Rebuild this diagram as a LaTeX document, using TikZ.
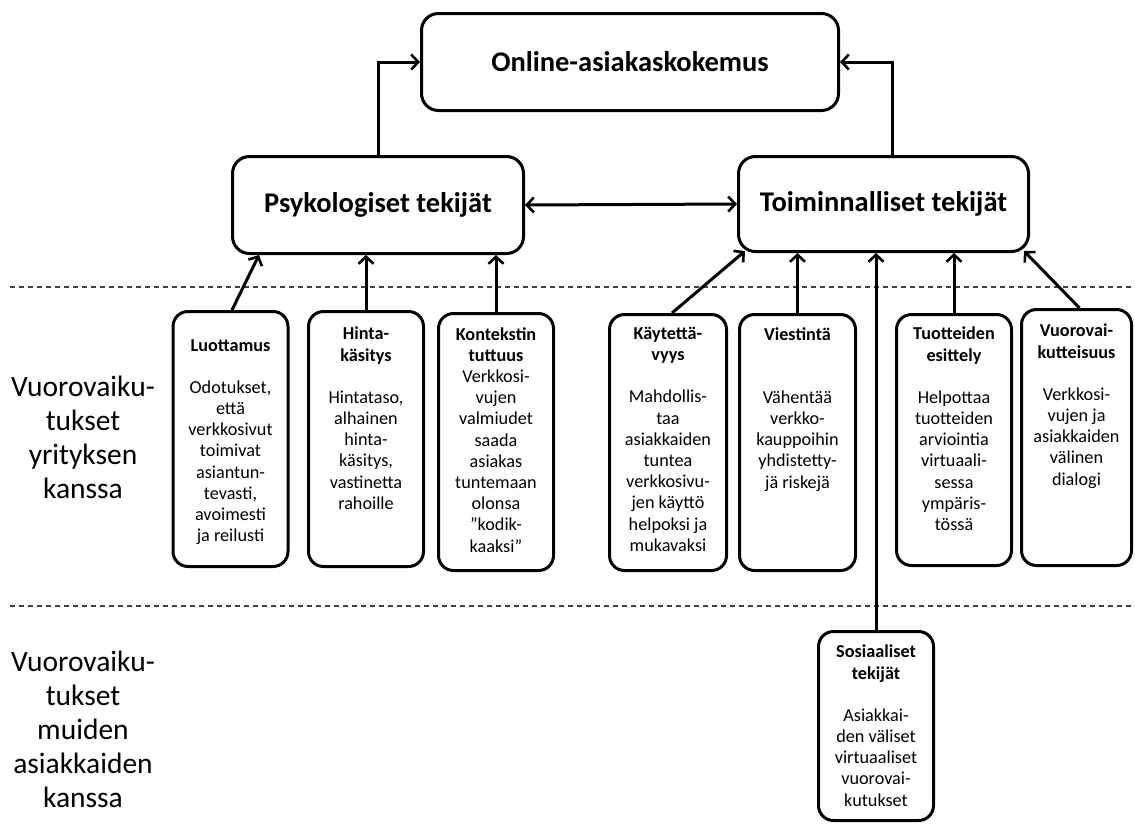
\documentclass[tikz,border=0pt]{standalone}
\usepackage{fontspec}
\setmainfont{Carlito}
\usetikzlibrary{arrows.meta,calc}

\begin{document}
\begin{tikzpicture}[x=1pt,y=-1pt,
  bigbox/.style={draw, line width=3pt, rounded corners=17pt, inner sep=0pt,
    font=\fontsize{28.5}{33}\selectfont\bfseries},
  smallbox/.style={draw, line width=3pt, rounded corners=15pt, inner sep=0pt,
    minimum width=115pt},
  boxtext/.style={align=center, inner sep=0pt, anchor=north,
    font=\fontsize{18.2}{21.2}\selectfont},
  sidetext/.style={align=center, inner sep=0pt,
    font=\fontsize{29.5}{34}\selectfont},
  conn/.style={line width=3pt, -{Straight Barb[length=7pt,width=15pt,line width=2.6pt]}},
  twoway/.style={line width=3pt,
    {Straight Barb[length=7pt,width=15pt,line width=2.6pt]}-{Straight Barb[length=7pt,width=15pt,line width=2.6pt]}},
  separator/.style={line width=1.1pt, dash pattern=on 5pt off 4pt, black!75}
]
\path[use as bounding box, fill=white] (0,0) rectangle (1135,833);

% section separators
\coordinate (sepAl) at (10,287);
\coordinate (sepAr) at (1135,287);
\coordinate (sepBl) at (10,606);
\coordinate (sepBr) at (1135,606);
\draw[separator] (sepAl) -- (sepAr);
\draw[separator] (sepBl) -- (sepBr);

% main boxes
\node[bigbox, minimum width=417pt, minimum height=97pt] (online) at (630,62) {Online-asiakaskokemus};
\node[bigbox, minimum width=291pt, minimum height=97pt] (psyk) at (378,205) {Psykologiset tekijät};
\node[bigbox, minimum width=290pt, minimum height=95pt] (toim) at (883.5,204) {Toiminnalliset tekijät};

% factor boxes
\node[smallbox, minimum height=255pt] (luot) at (230.5,439) {};
\node[smallbox, minimum height=255pt] (hinta) at (366,439) {};
\node[smallbox, minimum height=257pt] (kont) at (496,442) {};
\node[smallbox, minimum width=117pt, minimum height=256pt] (kayt) at (668,442.5) {};
\node[smallbox, minimum width=116pt, minimum height=256pt] (viest) at (797.5,442.5) {};
\node[smallbox, minimum height=251pt] (tuot) at (954,440) {};
\node[smallbox, minimum width=110pt, minimum height=256pt] (vuoro) at (1076.5,437.5) {};
\node[smallbox, minimum height=189pt] (sosi) at (876,726) {};

% factor texts
\node[boxtext] (luottxt) at (230.5,339) {\textbf{Luottamus}\\[21pt]Odotukset,\\että\\verkkosivut\\toimivat\\asiantun-\\tevasti,\\avoimesti\\ja reilusti};
\node[boxtext] (hintatxt) at (366,327) {\textbf{Hinta-}\\\textbf{käsitys}\\[21pt]Hintataso,\\alhainen\\hinta-\\käsitys,\\vastinetta\\rahoille};
\node[boxtext] (konttxt) at (496,327) {\textbf{Kontekstin}\\\textbf{tuttuus}\\Verkkosi-\\vujen\\valmiudet\\saada\\asiakas\\tuntemaan\\olonsa\\”kodik-\\kaaksi”};
\node[boxtext] (kayttxt) at (668,327) {\textbf{Käytettä-}\\\textbf{vyys}\\[21pt]Mahdollis-\\taa\\asiakkaiden\\tuntea\\verkkosivu-\\jen käyttö\\helpoksi ja\\mukavaksi};
\node[boxtext] (viesttxt) at (797.5,327) {\textbf{Viestintä}\\[42pt]Vähentää\\verkko-\\kauppoihin\\yhdistetty-\\jä riskejä};
\node[boxtext] (tuottxt) at (954,327) {\textbf{Tuotteiden}\\\textbf{esittely}\\[21pt]Helpottaa\\tuotteiden\\arviointia\\virtuaali-\\sessa\\ympäris-\\tössä};
\node[boxtext] (vuorotxt) at (1076.5,324) {\textbf{Vuorovai-}\\\textbf{kutteisuus}\\[21pt]Verkkosi-\\vujen ja\\asiakkaiden\\välinen\\dialogi};
\node[boxtext] (sositxt) at (876,645) {\textbf{Sosiaaliset}\\\textbf{tekijät}\\[21pt]Asiakkai-\\den väliset\\virtuaaliset\\vuorovai-\\kutukset};

% row labels
\node[sidetext] (rowfirm) at (83,437) {Vuorovaiku-\\tukset\\yrityksen\\kanssa};
\node[sidetext] (rowcust) at (83,729) {Vuorovaiku-\\tukset\\muiden\\asiakkaiden\\kanssa};

% connectors to the overall experience
\draw[conn] (psyk.north) |- (online.west);
\draw[conn] ([xshift=8.5pt]toim.north) |- (online.east);
\draw[twoway] (psyk.east) -- (toim.west);

% psychological factors
\draw[conn] ([xshift=1.5pt]luot.north) -- ($(psyk.south west)+(28,0)$);
\draw[conn] (hinta.north) -- (hinta.north |- psyk.south);
\draw[conn] (kont.north) -- (kont.north |- psyk.south);

% functional factors
\draw[conn] ([xshift=4pt]kayt.north) -- ($(toim.south west)+(8,-2)$);
\draw[conn] (viest.north) -- (viest.north |- toim.south);
\draw[conn] (sosi.north) -- (sosi.north |- toim.south);
\draw[conn] (tuot.north) -- (tuot.north |- toim.south);
\draw[conn] ([xshift=3pt]vuoro.north) -- ($(toim.south east)+(-6,-2)$);
\end{tikzpicture}
\end{document}
